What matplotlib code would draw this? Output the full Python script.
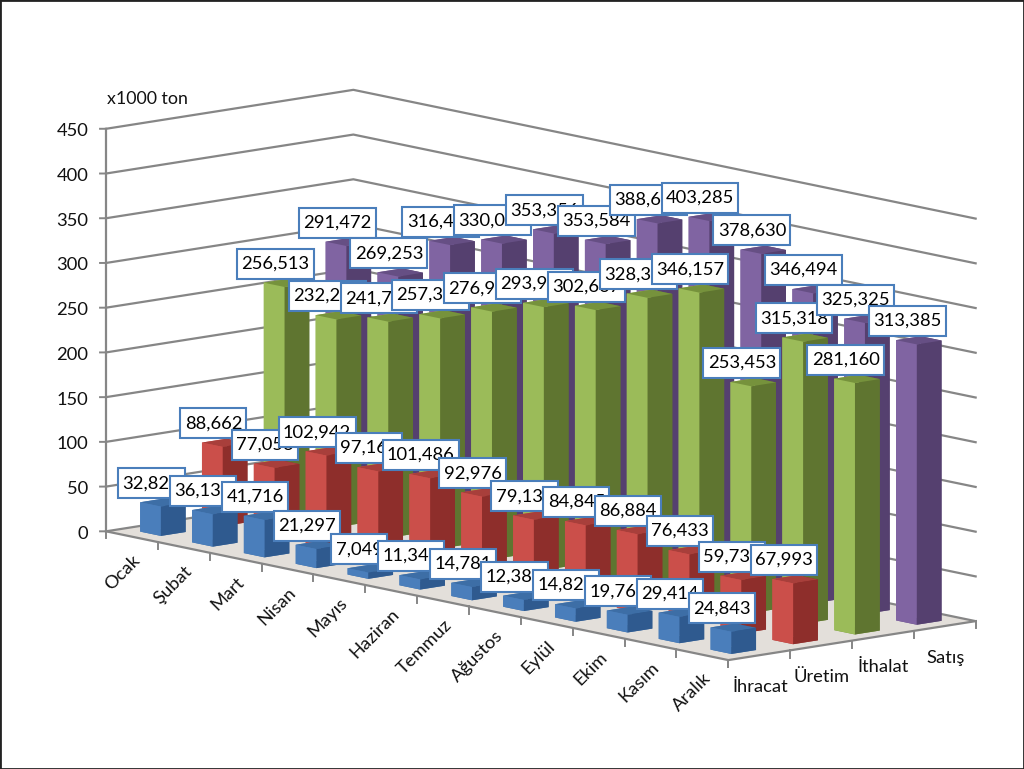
import matplotlib
matplotlib.use('Agg')
import matplotlib.pyplot as plt
from matplotlib.patches import Rectangle
from matplotlib.path import Path
from mpl_toolkits.mplot3d import proj3d
from mpl_toolkits.mplot3d.art3d import Poly3DCollection

plt.rcParams['font.family'] = ['Lato', 'DejaVu Sans']

# Data (x1000 ton); digits hidden behind other labels are estimated
months = ['Ocak', 'Şubat', 'Mart', 'Nisan', 'Mayıs', 'Haziran', 'Temmuz',
          'Ağustos', 'Eylül', 'Ekim', 'Kasım', 'Aralık']
series = ['İhracat', 'Üretim', 'İthalat', 'Satış']
ihracat = [32.823, 36.134, 41.716, 21.297, 7.049, 11.345, 14.781, 12.387, 14.826, 19.764, 29.414, 24.843]
uretim = [88.662, 77.053, 102.942, 97.165, 101.486, 92.976, 79.136, 84.845, 86.884, 76.433, 59.734, 67.993]
ithalat = [256.513, 232.254, 241.736, 257.362, 276.945, 293.957, 302.667, 328.364, 346.157, 253.453, 315.318, 281.160]
satis = [291.472, 269.253, 316.448, 330.074, 353.356, 353.584, 388.648, 403.285, 378.630, 346.494, 325.325, 313.385]
values = [ihracat, uretim, ithalat, satis]
y_ticks = [0, 50, 100, 150, 200, 250, 300, 350, 400, 450]

# face colours: top, left, right
colors = [('#3d6ea6', '#4a7ebb', '#2f5a8f'),
          ('#a83f3b', '#cb4f4a', '#8e2e2b'),
          ('#76923c', '#9bbb59', '#5f7530'),
          ('#664f84', '#8064a2', '#55406f')]
grid_color = '#868686'
text_color = '#111111'
font_size = 13.2


def label_box(x0, y0, width, height, mutation_size):
    # data label box, taller than the plain text bbox would be
    pad_x, pad_y = 4.3, 7
    x0, y0 = x0 - pad_x, y0 - pad_y
    x1, y1 = x0 + width + 2 * pad_x, y0 + height + 2 * pad_y
    return Path([(x0, y0), (x1, y0), (x1, y1), (x0, y1), (x0, y0)], closed=True)


def put_text(x, y, z, s, dx, dy, **kwargs):
    # 3D text ignores rotation, so project the point and annotate in 2D
    px, py, _ = proj3d.proj_transform(x, y, z, ax.get_proj())
    return ax.annotate(s, (px, py), xytext=(dx, dy), textcoords='offset pixels',
                       annotation_clip=False, **kwargs)


fig = plt.figure(figsize=(10.24, 7.69), dpi=100)

# square axes, placed so the 3D box lands where the reference has it
ax = fig.add_axes([15.0 / 1024, -131.8 / 769, 1024 / 1024, 1024 / 769],
                  projection='3d', proj_type='ortho', computed_zorder=False)
ax.view_init(elev=10.4, azim=-41.1)
ax.set_box_aspect((946, 328, 409), zoom=1.026)
n_m, n_s, z_max = len(months), len(series), y_ticks[-1]
ax.set_xlim(0, n_m)
ax.set_ylim(0, n_s)
ax.set_zlim(0, z_max)
ax.set_axis_off()

# floor
floor = Poly3DCollection([[(0, 0, 0), (n_m, 0, 0), (n_m, n_s, 0), (0, n_s, 0)]],
                         facecolors='#e3dfda', edgecolors='none', zorder=1)
ax.add_collection3d(floor)

# walls grid, left axis ticks and labels
for t in y_ticks:
    ax.plot([0, 0, n_m], [0, n_s, n_s], [t, t, t], color=grid_color, lw=1.6, zorder=2)
    ax.plot([0, -0.05], [0, -0.055], [t, t], color=grid_color, lw=1.4, zorder=2)
    put_text(0, 0, t, str(t), -17.5, -2.5, ha='right', va='center', fontsize=font_size,
             color=text_color, zorder=3)

# axis lines and ticks
ax.plot([0, 0], [0, 0], [0, z_max], color=grid_color, lw=1.6, zorder=2)
ax.plot([0, n_m, n_m], [0, 0, n_s], [0, 0, 0], color=grid_color, lw=1.6, zorder=2)
for i in range(n_m + 1):
    ax.plot([i, i], [0, 0], [0, -8], color=grid_color, lw=1.4, zorder=2)
for j in range(n_s + 1):
    ax.plot([n_m, n_m], [j, j], [0, -8], color=grid_color, lw=1.4, zorder=2)

# bars, back to front
order = 10
for s in reversed(range(n_s)):
    for m in range(n_m):
        top, left, right = colors[s]
        # faces: bottom, top, -y, +y, -x, +x
        ax.bar3d(m + 0.3, s + 0.3, 0, 0.4, 0.4, values[s][m],
                 color=[top, top, left, right, left, right], shade=False,
                 edgecolor='none', zorder=order)
        order += 1

# data labels on top of everything
for s in range(n_s):
    for m in range(n_m):
        put_text(m + 0.5, s + 0.5, values[s][m], f'{values[s][m]:.3f}'.replace('.', ','), -11.3, 19.3,
                 ha='center', va='center', fontsize=font_size, color='black', zorder=1000 + order,
                 bbox=dict(boxstyle=label_box, fc='white', ec='#4a7ebb', lw=1.5))
        order += 1

# category labels
for m, name in enumerate(months):
    put_text(m + 0.5, 0, 0, name, 5.7, -21, rotation=45, rotation_mode='anchor', ha='right', va='center',
             fontsize=font_size, color=text_color, zorder=3)
for s, name in enumerate(series):
    put_text(n_m, s + 0.5, 0, name, 0.7, -31.5, ha='center', va='center', fontsize=font_size,
             color=text_color, zorder=3)

fig.text(107 / 1024, 1 - 99.5 / 769, 'x1000 ton', ha='left', va='center', fontsize=12.8, color=text_color)

# dark frame of the picture
fig.add_artist(Rectangle((0, 0), 1, 1, transform=fig.transFigure, fill=False, ec='#222222', lw=2))

fig.savefig('out.png', dpi=100)
